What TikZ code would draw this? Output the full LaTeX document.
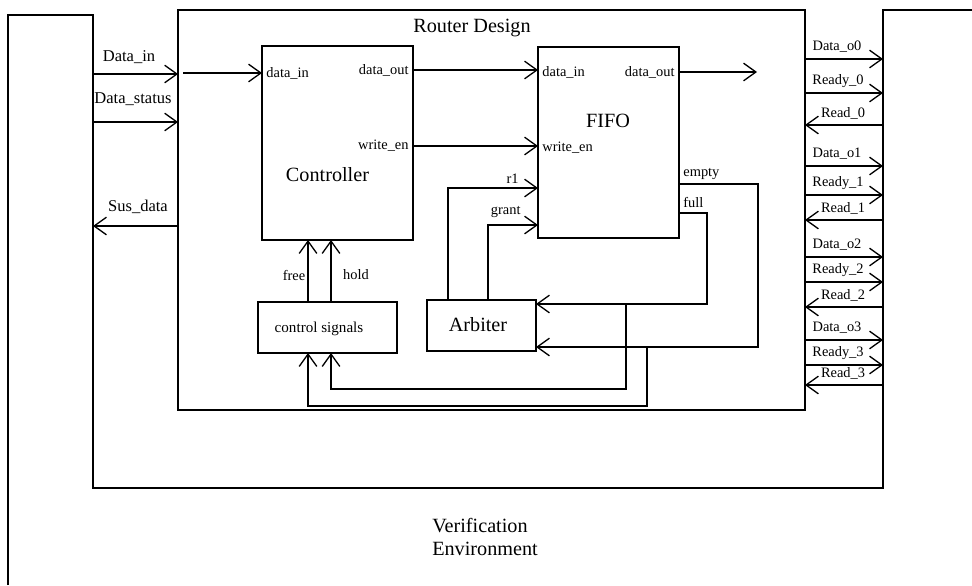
\documentclass[tikz,border=0pt]{standalone}
\usepackage{fontspec}
\setmainfont{Liberation Serif}
\usetikzlibrary{arrows.meta, positioning, calc}

\begin{document}
\begin{tikzpicture}[
    x=0.02cm, y=-0.02cm,
    line width=0.75pt,
    box/.style={draw, inner sep=0pt, outer sep=0pt},
    title/.style={font=\fontsize{11.5}{13}\selectfont, inner sep=1pt},
    sig/.style={font=\fontsize{9.4}{11}\selectfont, inner sep=1pt},
    port/.style={font=\fontsize{8.2}{10}\selectfont, inner sep=1pt},
    arrow/.style={-{Straight Barb[length=7pt,width=10pt]}}
  ]
  \useasboundingbox (0,0) rectangle (972,585);

  % verification environment
  \draw (8,585) -- (8,15) -- (93,15) -- (93,488) -- (883,488) -- (883,10) -- (972,10);
  \node[title, align=left] (envtxt) at (485,537) {Verification\\Environment};

  % router and its blocks
  \node[box, minimum width=12.54cm, minimum height=8cm] (router) at (491.5,210) {};
  \node[title] (routertxt) at (472,28) {Router Design};

  \node[box, minimum width=3.02cm, minimum height=3.88cm] (ctrl) at (337.5,143) {};
  \node[title] (ctrltxt) at (327.5,175) {Controller};
  \node[port, anchor=west] (cdin)  at (264,73)  {data\_in};
  \node[port, anchor=east] (cdout) at (411,70)  {data\_out};
  \node[port, anchor=east] (cwen)  at (411,146) {write\_en};

  \node[box, minimum width=2.82cm, minimum height=3.82cm] (fifo) at (608.5,142.5) {};
  \node[title] (fifotxt) at (608,121) {FIFO};
  \node[port, anchor=west] (fdin)   at (540,72)  {data\_in};
  \node[port, anchor=east] (fdout)  at (677,72)  {data\_out};
  \node[port, anchor=west] (fwen)   at (540,148) {write\_en};
  \node[port, anchor=west] (fempty) at (681,174) {empty};
  \node[port, anchor=west] (ffull)  at (681,202) {full};
  \node[port, anchor=east] (fr1)    at (521,179) {r1};
  \node[port, anchor=east] (fgrant) at (523,212) {grant};

  \node[box, minimum width=2.18cm, minimum height=1.02cm] (arb) at (481.5,325.5) {};
  \node[title] (arbtxt) at (478,325) {Arbiter};

  \node[box, minimum width=2.78cm, minimum height=1.02cm] (ctl) at (327.5,327.5) {};
  \node[port, font=\fontsize{8.6}{10}\selectfont] (ctltxt) at (319,329) {control signals};
  \node[port] (freetxt) at (294,275) {free};
  \node[port] (holdtxt) at (356,275) {hold};

  % inputs from the environment
  \coordinate (vdin) at (93,74);
  \coordinate (vdst) at (93,122);
  \coordinate (vsus) at (93,226);
  \node[sig] (ldin) at (129,57)  {Data\_in};
  \node[sig] (ldst) at (133,99)  {Data\_status};
  \node[sig] (lsus) at (138,207) {Sus\_data};
  \draw[arrow] (vdin) -- (router.west |- vdin);
  \draw[arrow] (vdst) -- (router.west |- vdst);
  \draw[arrow] (router.west |- vsus) -- (vsus);

  % data path
  \coordinate (rin) at (183,73);
  \coordinate (fout) at (757,72);
  \draw[arrow] (rin) -- (ctrl.west |- cdin);
  \draw[arrow] (ctrl.east |- cdout) -- (fifo.west |- cdout);
  \draw[arrow] (ctrl.east |- cwen) -- (fifo.west |- cwen);
  \draw[arrow] (fifo.east |- fdout) -- (fout);

  % arbiter
  \draw[arrow] ($(arb.north west)+(21,0)$) |- ($(fifo.north west)+(0,141)$);
  \draw[arrow] ($(arb.north west)+(61,0)$) |- ($(fifo.north west)+(0,178)$);
  \draw[arrow] ($(fifo.north east)+(0,137)$) -- ++(79,0) |- ($(arb.south east)+(0,-4)$);
  \draw[arrow] ($(fifo.north east)+(0,166)$) -- ++(28,0) |- ($(arb.north east)+(0,4)$);

  % control signals
  \draw[arrow] ($(arb.north east)+(90,4)$) -- ++(0,85) -| ($(ctl.south west)+(73,0)$);
  \draw[arrow] ($(arb.south east)+(111,-4)$) -- ++(0,59) -| ($(ctl.south west)+(50,0)$);
  \coordinate (fr) at ($(ctl.north west)+(50,0)$);
  \coordinate (hd) at ($(ctl.north west)+(73,0)$);
  \draw[arrow] (fr) -- (ctrl.south -| fr);
  \draw[arrow] (hd) -- (ctrl.south -| hd);

  % outputs to the environment
  \foreach \i/\ya/\yb/\yc in {0/59/93/125, 1/166/195/220, 2/257/282/307, 3/340/365/385} {
    \coordinate (o\i) at (883,\ya);
    \coordinate (r\i) at (883,\yb);
    \coordinate (q\i) at (883,\yc);
    \draw[arrow] (router.east |- o\i) -- (o\i);
    \draw[arrow] (router.east |- r\i) -- (r\i);
    \draw[arrow] (q\i) -- (router.east |- q\i);
    \node[port] (lo\i) at (837,\ya-12) {Data\_o\i};
    \node[port] (lr\i) at (838,\yb-12) {Ready\_\i};
    \node[port] (lq\i) at (843,\yc-12) {Read\_\i};
  }
\end{tikzpicture}
\end{document}
